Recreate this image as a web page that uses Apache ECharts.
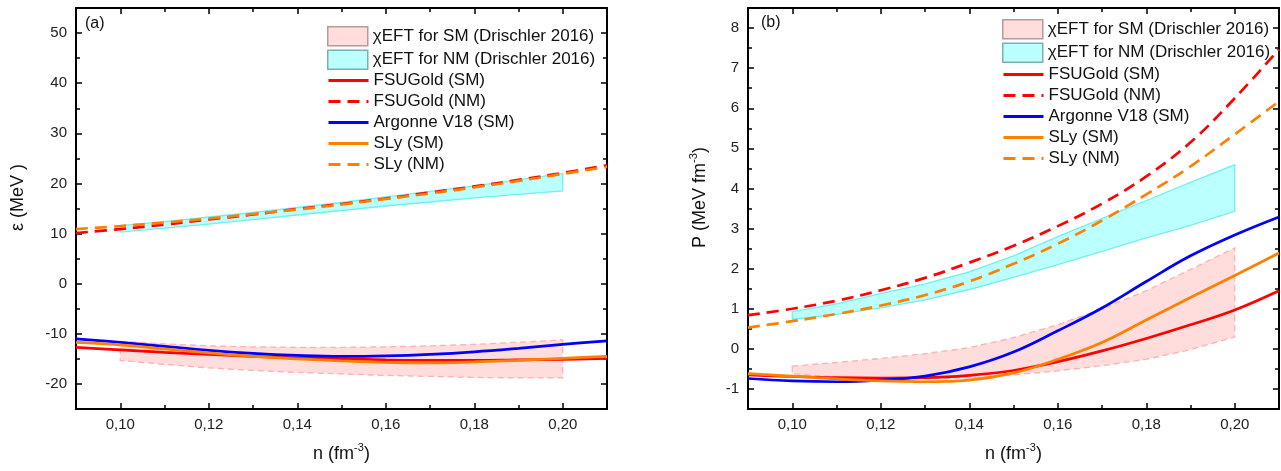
<!DOCTYPE html>
<html><head><meta charset="utf-8">
<script src="https://cdn.jsdelivr.net/npm/echarts@6/dist/echarts.min.js"></script>
<style>html,body{margin:0;padding:0;background:#fff}#c{width:1281px;height:471px}</style>
</head><body><div id="c"></div>
<script>
// ---- data ----
const nGrid = [0.09,0.10,0.11,0.12,0.13,0.14,0.15,0.16,0.17,0.18,0.19,0.20,0.21];
const nBand = [0.10,0.11,0.12,0.13,0.14,0.15,0.16,0.17,0.18,0.19,0.20];

const xTicksMajor = [0.10,0.12,0.14,0.16,0.18,0.20];
const xTicksMinor = [0.09,0.11,0.13,0.15,0.17,0.19,0.21];
const epsTicksMajor = [-20,-10,0,10,20,30,40,50];
const epsTicksMinor = [-25,-15,-5,5,15,25,35,45,55];
const pTicksMajor = [-1,0,1,2,3,4,5,6,7,8];
const pTicksMinor = [-1.5,-0.5,0.5,1.5,2.5,3.5,4.5,5.5,6.5,7.5,8.5];

// panel (a): energy per particle (MeV)
const epsFsuSM  = [-12.7,-13.2,-13.7,-14.1,-14.5,-14.8,-15.0,-15.2,-15.3,-15.3,-15.2,-15.1,-14.9];
const epsFsuNM  = [10.1,10.9,11.8,12.8,13.8,14.9,15.9,17.0,18.2,19.4,20.7,22.1,23.6];
const epsAv18SM = [-11.0,-11.7,-12.5,-13.3,-13.9,-14.3,-14.5,-14.4,-14.1,-13.6,-12.9,-12.1,-11.4];
const epsSlySM  = [-11.7,-12.2,-13.0,-13.8,-14.5,-15.0,-15.4,-15.7,-15.8,-15.6,-15.3,-14.9,-14.5];
const epsSlyNM  = [10.9,11.5,12.2,13.0,13.9,14.8,15.8,16.9,18.0,19.2,20.5,21.9,23.3];
const epsBandSMlo = [-15.3,-16.1,-16.8,-17.3,-17.7,-18.0,-18.3,-18.5,-18.7,-18.8,-18.8];
const epsBandSMhi = [-11.5,-12.0,-12.4,-12.6,-12.7,-12.7,-12.6,-12.4,-12.1,-11.7,-11.2];
const epsBandNMlo = [10.3,11.1,11.9,12.8,13.7,14.6,15.5,16.3,17.1,17.8,18.5];
const epsBandNMhi = [11.6,12.4,13.3,14.2,15.2,16.2,17.3,18.4,19.5,20.7,22.0];

// panel (b): pressure (MeV fm^-3)
const pFsuSM  = [-0.65,-0.69,-0.72,-0.73,-0.72,-0.66,-0.54,-0.32,-0.05,0.26,0.60,0.97,1.45];
const pFsuNM  = [0.84,1.00,1.20,1.46,1.77,2.15,2.57,3.06,3.62,4.30,5.15,6.25,7.47];
const pAv18SM = [-0.74,-0.80,-0.82,-0.78,-0.68,-0.45,-0.08,0.45,1.02,1.68,2.32,2.84,3.29];
const pSlySM  = [-0.62,-0.68,-0.75,-0.80,-0.82,-0.78,-0.60,-0.26,0.16,0.72,1.28,1.83,2.39];
const pSlyNM  = [0.53,0.69,0.87,1.08,1.34,1.68,2.12,2.62,3.20,3.85,4.55,5.35,6.17];
const pBandSMlo = [-0.62,-0.70,-0.74,-0.75,-0.72,-0.65,-0.55,-0.42,-0.26,-0.02,0.30];
const pBandSMhi = [-0.43,-0.34,-0.24,-0.12,0.03,0.28,0.60,1.00,1.45,1.98,2.52];
const pBandNMlo = [0.74,0.86,1.02,1.22,1.48,1.78,2.10,2.43,2.77,3.08,3.43];
const pBandNMhi = [0.93,1.12,1.38,1.62,1.92,2.32,2.80,3.25,3.70,4.15,4.59];

const names = {
  bandSM: 'χEFT for SM (Drischler 2016)',
  bandNM: 'χEFT for NM (Drischler 2016)',
  fsuSM: 'FSUGold (SM)', fsuNM: 'FSUGold (NM)', av18: 'Argonne V18 (SM)',
  slySM: 'SLy (SM)', slyNM: 'SLy (NM)'
};

// ---- styling ----
const FONT = "'Liberation Sans', Arial, sans-serif";
const RED = '#FF0000', BLUE = '#0000FF', ORANGE = '#FF8000';
const PINK_FILL = '#FFDDDD', PINK_LINE = '#FFB0B0';
const CYAN_FILL = '#BBFFFF', CYAN_LINE = '#70F0F0';
const DASH = [12, 7];
const NAME_STYLE = {fontSize:18, color:'#111', fontFamily:FONT, lineHeight:24,
  rich:{sup:{fontSize:11, fontFamily:FONT, color:'#111', verticalAlign:'top', lineHeight:12}}};

function xAxes(g) {
  const base = {type:'value', gridIndex:g, min:0.09, max:0.21, splitLine:{show:false}};
  const line = {show:true, onZero:false, lineStyle:{color:'#000', width:2}};
  return [
    Object.assign({}, base, {position:'bottom',
      axisLine: line,
      axisTick:{show:true, inside:true, length:6, customValues:xTicksMajor, lineStyle:{color:'#000', width:1.5}},
      axisLabel:{show:true, customValues:xTicksMajor, margin:8, fontSize:15, color:'#222', fontFamily:FONT,
        formatter: v => v.toFixed(2).replace('.', ',')},
      name:'n (fm{sup|-3})', nameLocation:'middle', nameGap:33, nameTextStyle:NAME_STYLE}),
    Object.assign({}, base, {position:'bottom', axisLine:{show:false, onZero:false},
      axisTick:{show:true, inside:true, length:4, customValues:xTicksMinor, lineStyle:{color:'#000', width:1.5}},
      axisLabel:{show:false}}),
    Object.assign({}, base, {position:'top', axisLine: line,
      axisTick:{show:true, inside:true, length:6, customValues:xTicksMajor, lineStyle:{color:'#000', width:1.5}},
      axisLabel:{show:false}}),
    Object.assign({}, base, {position:'top', axisLine:{show:false, onZero:false},
      axisTick:{show:true, inside:true, length:4, customValues:xTicksMinor, lineStyle:{color:'#000', width:1.5}},
      axisLabel:{show:false}})
  ];
}
function yAxes(g, min, max, major, minor, name, nameGap, pad) {
  const base = {type:'value', gridIndex:g, min:min, max:max, splitLine:{show:false}};
  const line = {show:true, onZero:false, lineStyle:{color:'#000', width:2}};
  return [
    Object.assign({}, base, {position:'left', axisLine: line,
      axisTick:{show:true, inside:true, length:6, customValues:major, lineStyle:{color:'#000', width:1.5}},
      axisLabel:{show:true, customValues:major, margin:9, fontSize:15, color:'#222', fontFamily:FONT},
      name:name, nameLocation:'middle', nameGap:nameGap, nameRotate:90,
      nameTextStyle:Object.assign({}, NAME_STYLE, {padding:pad})}),
    Object.assign({}, base, {position:'left', axisLine:{show:false, onZero:false},
      axisTick:{show:true, inside:true, length:4, customValues:minor, lineStyle:{color:'#000', width:1.5}},
      axisLabel:{show:false}}),
    Object.assign({}, base, {position:'right', axisLine: line,
      axisTick:{show:true, inside:true, length:6, customValues:major, lineStyle:{color:'#000', width:1.5}},
      axisLabel:{show:false}}),
    Object.assign({}, base, {position:'right', axisLine:{show:false, onZero:false},
      axisTick:{show:true, inside:true, length:4, customValues:minor, lineStyle:{color:'#000', width:1.5}},
      axisLabel:{show:false}})
  ];
}

function band(name, lo, hi, ai, fill, stroke, dash) {
  return {
    type:'custom', name:name, xAxisIndex:ai, yAxisIndex:ai, silent:true, z:1,
    data: nBand.map((x, i) => [x, lo[i], hi[i]]),
    encode:{x:0, y:[1,2]},
    itemStyle:{color:fill},
    renderItem: function (params, api) {
      if (params.dataIndex !== 0) return null;
      const pts = [];
      for (let i = 0; i < nBand.length; i++) pts.push(api.coord([nBand[i], hi[i]]));
      for (let i = nBand.length - 1; i >= 0; i--) pts.push(api.coord([nBand[i], lo[i]]));
      return {type:'polygon', shape:{points:pts},
        style:{fill:fill, stroke:stroke, lineWidth:1.3, lineDash:dash}};
    }
  };
}
function curve(name, vals, color, dashed, ai) {
  return {
    type:'line', name:name, xAxisIndex:ai, yAxisIndex:ai, z:3,
    data: nGrid.map((x, i) => [x, vals[i]]),
    symbol:'none', showSymbol:false, smooth:0.4, silent:true,
    lineStyle:{color:color, width:2.7, type: dashed ? DASH : 'solid'},
    itemStyle:{color:color}
  };
}

const rectLegendData = [
  {name:names.bandSM, icon:'rect', itemStyle:{color:PINK_FILL, borderColor:'#B89A9A', borderWidth:1.5}},
  {name:names.bandNM, icon:'rect', itemStyle:{color:CYAN_FILL, borderColor:'#7AB0B0', borderWidth:1.5}}
];
const lineLegendData = [names.fsuSM, names.fsuNM, names.av18, names.slySM, names.slyNM]
  .map(nm => ({name:nm, itemStyle:{opacity:0}, lineStyle:{width:3}}));
const legendBase = {orient:'vertical', itemWidth:40, selectedMode:false, padding:0,
  textStyle:{fontSize:17, color:'#111', fontFamily:FONT}};

const option = {
  animation:false,
  backgroundColor:'#fff',
  grid:[
    {left:76, top:8, width:531, height:408},
    {left:748, top:8, width:531, height:407}
  ],
  xAxis: xAxes(0).concat(xAxes(1)),
  yAxis: yAxes(0, -25, 55, epsTicksMajor, epsTicksMinor, 'ε (MeV )', 46, [0,0,0,22])
    .concat(yAxes(1, -1.5, 8.5, pTicksMajor, pTicksMinor, 'P (MeV fm{sup|-3})', 36, [0,0,0,22])),
  legend:[
    Object.assign({}, legendBase, {left:327, top:26, itemHeight:19, itemGap:3, data:rectLegendData}),
    Object.assign({}, legendBase, {left:327, top:72, itemHeight:14, itemGap:4, data:lineLegendData}),
    Object.assign({}, legendBase, {left:1002, top:19, itemHeight:19, itemGap:3, data:rectLegendData}),
    Object.assign({}, legendBase, {left:1002, top:66, itemHeight:14, itemGap:4, data:lineLegendData})
  ],
  title:[
    {text:'(a)', left:85, top:16, padding:0, textStyle:{fontSize:16, fontWeight:'normal', color:'#111', fontFamily:FONT}},
    {text:'(b)', left:761, top:15, padding:0, textStyle:{fontSize:16, fontWeight:'normal', color:'#111', fontFamily:FONT}}
  ],
  series:[
    band(names.bandSM, epsBandSMlo, epsBandSMhi, 0, PINK_FILL, PINK_LINE, [6,4]),
    band(names.bandNM, epsBandNMlo, epsBandNMhi, 0, CYAN_FILL, CYAN_LINE, null),
    curve(names.fsuSM, epsFsuSM, RED, false, 0),
    curve(names.fsuNM, epsFsuNM, RED, true, 0),
    curve(names.av18, epsAv18SM, BLUE, false, 0),
    curve(names.slySM, epsSlySM, ORANGE, false, 0),
    curve(names.slyNM, epsSlyNM, ORANGE, true, 0),
    band(names.bandSM, pBandSMlo, pBandSMhi, 4, PINK_FILL, PINK_LINE, [6,4]),
    band(names.bandNM, pBandNMlo, pBandNMhi, 4, CYAN_FILL, CYAN_LINE, null),
    curve(names.fsuSM, pFsuSM, RED, false, 4),
    curve(names.fsuNM, pFsuNM, RED, true, 4),
    curve(names.av18, pAv18SM, BLUE, false, 4),
    curve(names.slySM, pSlySM, ORANGE, false, 4),
    curve(names.slyNM, pSlyNM, ORANGE, true, 4)
  ]
};
const chart = echarts.init(document.getElementById('c'), null, {renderer:'canvas'});
chart.setOption(option);
</script>
</body></html>
